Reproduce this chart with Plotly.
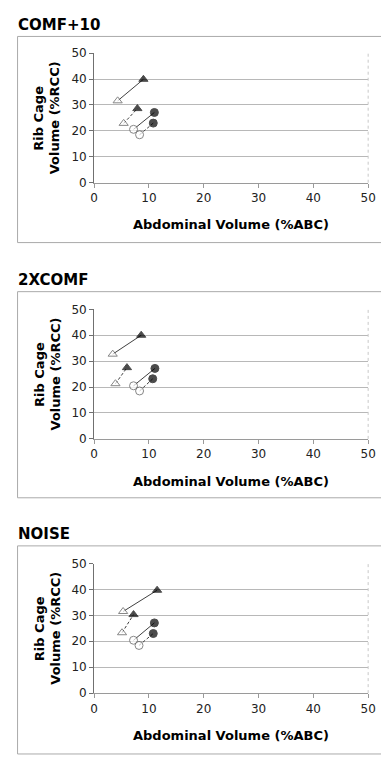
import plotly.graph_objects as go

W, H = 381, 760

panel_titles = ["COMF+10", "2XCOMF", "NOISE"]

# Each panel: four pre->post pairs (open marker = first, filled marker = second)
tri_solid_x = [[4.3, 9.0], [3.4, 8.6], [5.3, 11.5]]
tri_solid_y = [[31.6, 39.9], [32.7, 40.0], [31.5, 39.7]]
tri_dash_x = [[5.4, 7.9], [3.9, 6.0], [5.1, 7.2]]
tri_dash_y = [[22.9, 28.6], [21.3, 27.5], [23.3, 30.3]]
circ_solid_x = [[7.2, 11.0], [7.2, 11.1], [7.2, 11.0]]
circ_solid_y = [[20.6, 27.1], [20.5, 27.2], [20.4, 27.1]]
circ_dash_x = [[8.3, 10.8], [8.3, 10.7], [8.2, 10.8]]
circ_dash_y = [[18.5, 23.0], [18.5, 23.2], [18.4, 23.0]]

x_ticks = [0, 10, 20, 30, 40, 50]
y_ticks = [0, 10, 20, 30, 40, 50]
x_title = "Abdominal Volume (%ABC)"
y_title_lines = ["Rib Cage", "Volume (%RCC)"]

def px(x):
    return x / W

def py(y):
    return 1 - y / H

FONT = "DejaVu Sans"
LINE = "#404040"
GRID = "#b8b8b8"

# per-panel pixel geometry: (title_y, box_top, box_bottom, plot_top, plot_bottom)
geom = [
    (18, 30, 240, 47, 179),
    (278, 290, 500, 308, 440),
    (537, 549, 761, 567, 699),
]
plot_left, plot_right = 93, 376

fig = go.Figure()
shapes = []
annotations = []

for i in range(3):
    xa = "x" if i == 0 else f"x{i+1}"
    ya = "y" if i == 0 else f"y{i+1}"
    t_y, b_top, b_bot, p_top, p_bot = geom[i]

    def seg(xs, ys, dash, symbol):
        fig.add_trace(go.Scatter(
            x=xs, y=ys, xaxis=xa, yaxis=ya, mode="lines+markers",
            line=dict(color=LINE, width=1, dash=dash),
            marker=dict(symbol=symbol, size=[8, 8],
                        color=["white", "black"],
                        line=dict(color=["#555555", "black"], width=1)),
            showlegend=False, hoverinfo="x+y"))

    seg(tri_solid_x[i], tri_solid_y[i], "solid", "triangle-up")
    seg(tri_dash_x[i], tri_dash_y[i], "3px,2px", "triangle-up")
    seg(circ_solid_x[i], circ_solid_y[i], "solid", "circle")
    seg(circ_dash_x[i], circ_dash_y[i], "3px,2px", "circle")

    xkey = "xaxis" if i == 0 else f"xaxis{i+1}"
    ykey = "yaxis" if i == 0 else f"yaxis{i+1}"
    fig.layout[xkey] = dict(
        domain=[px(plot_left), px(plot_right)], anchor=ya,
        range=[0, 50], tickvals=x_ticks, ticktext=[str(v) for v in x_ticks],
        showgrid=False, zeroline=False, showline=True,
        linecolor="#9a9a9a", linewidth=1,
        ticks="outside", ticklen=4, tickcolor="#9a9a9a",
        ticklabeloverflow="allow",
        tickfont=dict(family=FONT, size=12, color="#222"),
    )
    fig.layout[ykey] = dict(
        domain=[py(p_bot), py(p_top)], anchor=xa,
        range=[0, 50], tickvals=y_ticks, ticktext=[str(v) for v in y_ticks],
        showgrid=True, gridcolor=GRID, gridwidth=1,
        zeroline=False, showline=True, linecolor="#707070", linewidth=1,
        ticks="outside", ticklen=4, tickcolor="#707070",
        tickfont=dict(family=FONT, size=12, color="#222"),
    )

    # outer frame
    shapes.append(dict(type="rect", xref="paper", yref="paper",
                       x0=px(14), x1=px(395), y0=py(b_bot), y1=py(b_top),
                       line=dict(color="#aaaaaa", width=1), layer="below"))
    # right border of plot area
    shapes.append(dict(type="line", xref=f"{xa} domain", yref=f"{ya} domain",
                       x0=1, x1=1, y0=0, y1=1,
                       line=dict(color="#c8c8c8", width=1, dash="dot")))

    annotations.append(dict(text=f"<b>{panel_titles[i]}</b>", xref="paper", yref="paper",
                            x=px(12), y=py(t_y), xanchor="left", yanchor="middle",
                            showarrow=False, font=dict(family=FONT, size=15, color="black")))
    annotations.append(dict(text=f"<b>{x_title}</b>", xref="paper", yref="paper",
                            x=px((plot_left + plot_right) / 2), y=py(p_bot + 43),
                            xanchor="center", yanchor="middle", showarrow=False,
                            font=dict(family=FONT, size=13, color="black")))
    mid = (p_top + p_bot) / 2
    for lx, txt in zip([36, 53], y_title_lines):
        annotations.append(dict(text=f"<b>{txt}</b>", xref="paper", yref="paper",
                                x=px(lx), y=py(mid), xanchor="center", yanchor="middle",
                                textangle=-90, showarrow=False,
                                font=dict(family=FONT, size=13, color="black")))

fig.update_layout(
    width=W, height=H, margin=dict(l=0, r=0, t=0, b=0),
    paper_bgcolor="white", plot_bgcolor="white",
    shapes=shapes, annotations=annotations, showlegend=False,
)

post = (
    "document.documentElement.style.overflow='hidden';"
    "document.body.style.margin='0';"
    "document.body.style.overflow='hidden';"
    "var gd=document.getElementById('{plot_id}');"
    "gd.style.overflow='hidden';"
)
fig.write_html("out.html", config={"displayModeBar": False}, post_script=post)
